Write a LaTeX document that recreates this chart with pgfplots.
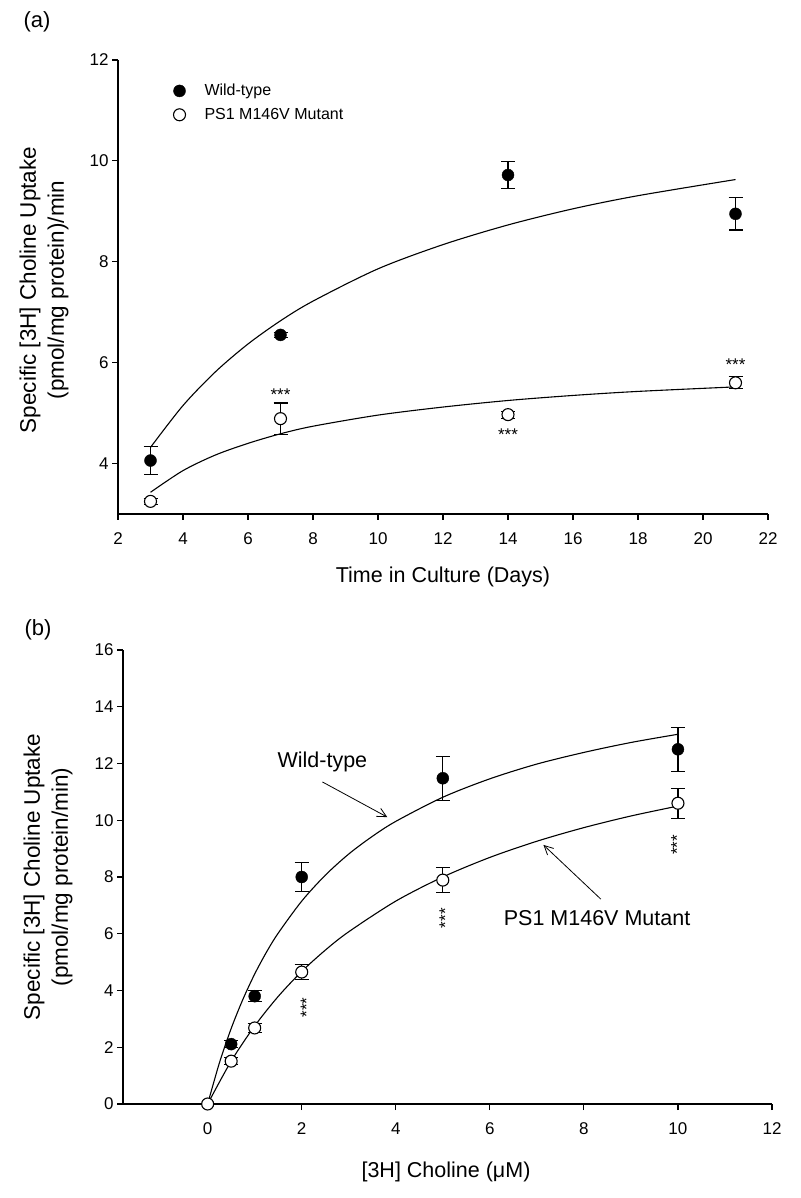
\documentclass[border=0pt]{standalone}
\usepackage{fontspec}
\setmainfont{Liberation Sans}
\usepackage{pgfplots}
\pgfplotsset{compat=1.18}
\usetikzlibrary{arrows.meta}

\tikzset{stars/.style={font=\fontsize{17}{17}\selectfont, inner sep=0pt}}
\pgfplotsset{
  panel/.style={
    scale only axis, width=650pt, height=454pt,
    axis x line*=bottom, axis y line*=left,
    axis line style={line width=1.1pt, -},
    tick align=outside, major tick length=6pt,
    tick style={line width=1.1pt, black},
    ticklabel style={font=\fontsize{17}{17}\selectfont},
    xticklabel style={yshift=-9pt},
    /pgf/number format/assume math mode=true,
    clip=false,
  },
  ebar/.style={error bars/y dir=both, error bars/y explicit,
    error bars/error bar style={line width=1.1pt, black},
    error bars/error mark options={rotate=90, mark size=7pt, line width=1.1pt, black}},
  wt/.style={only marks, mark=*, mark size=6pt, mark options={fill=black, draw=black}, ebar},
  mu/.style={only marks, mark=*, mark size=6pt, mark options={fill=white, draw=black, line width=1.1pt}, ebar},
  fit/.style={smooth, line width=1.1pt, black, mark=none},
}

\begin{document}
\begin{tikzpicture}
\path (0,0) rectangle (800pt,1198pt);

% ---- panel (a)
\begin{axis}[panel, at={(118pt,684pt)}, anchor=south west,
    xmin=2, xmax=22, ymin=3, ymax=12,
    xtick={2,4,...,22}, ytick={4,6,...,12},
    legend style={draw=none, fill=none, at={(axis cs:3.61,11.6)}, anchor=north west,
      font=\fontsize{16}{16}\selectfont, row sep=7pt,
      /tikz/every odd column/.append style={column sep=17pt}},
    legend cell align=left,
    legend image code/.code={\draw[mark repeat=2,mark phase=2] plot coordinates {(0pt,0pt) (6pt,0pt) (12pt,0pt)};},
  ]
  \addlegendimage{only marks, mark=*, mark size=6pt, fill=black}
  \addlegendentry{Wild-type}
  \addlegendimage{only marks, mark=*, mark size=6pt, fill=white, line width=1.1pt}
  \addlegendentry{PS1 M146V Mutant}

  \addplot[fit, forget plot] coordinates {
    (3,4.32) (4,5.15) (5,5.82) (6,6.37) (7,6.83) (8,7.22) (10,7.86)
    (12,8.34) (14,8.73) (16,9.05) (18,9.31) (21,9.63)};
  \addplot[fit, forget plot] coordinates {
    (3,3.43) (4,3.86) (5,4.17) (6,4.40) (7,4.59) (8,4.74) (10,4.96)
    (12,5.12) (14,5.25) (16,5.35) (18,5.43) (21,5.52)};

  \addplot[wt, forget plot] table[x=x, y=y, y error=e] {
x y e
3 4.06 0.27
7 6.55 0.05
14 9.72 0.26
21 8.95 0.32
};
  \addplot[mu, forget plot] table[x=x, y=y, y error=e] {
x y e
3 3.25 0.06
7 4.89 0.31
14 4.97 0.07
21 5.60 0.12
};

  \node[stars] at (axis cs:7,5.37) {***};
  \node[stars] at (axis cs:14,4.57) {***};
  \node[stars] at (axis cs:21,5.96) {***};
\end{axis}

% ---- panel (b)
\begin{axis}[panel, at={(123pt,94pt)}, anchor=south west, width=649pt,
    xmin=-1.8, xmax=12, ymin=0, ymax=16,
    xtick={0,2,...,12}, ytick={0,2,...,16},
  ]
  \addplot[fit] coordinates {
    (0,0) (0.25,1.45) (0.5,2.66) (0.75,3.69) (1,4.58) (1.25,5.35) (1.5,6.02)
    (2,7.15) (2.5,8.06) (3,8.81) (3.5,9.43) (4,9.96) (5,10.81) (6,11.46)
    (7,11.98) (8,12.39) (9,12.74) (10,13.03)};
  \addplot[fit] coordinates {
    (0,0) (0.5,1.51) (1,2.75) (1.5,3.79) (2,4.67) (2.5,5.42) (3,6.07)
    (4,7.15) (5,8.00) (6,8.69) (7,9.26) (8,9.74) (9,10.15) (10,10.50)};

  \addplot[wt] table[x=x, y=y, y error=e] {
x y e
0.5 2.11 0.12
1 3.80 0.20
2 8.00 0.52
5 11.48 0.77
10 12.50 0.78
};
  \addplot[mu] table[x=x, y=y, y error=e] {
x y e
0 0 0
0.5 1.51 0.12
1 2.68 0.15
2 4.65 0.27
5 7.89 0.43
10 10.60 0.53
};

  \node[stars, rotate=90] at (axis cs:2.1,3.4) {***};
  \node[stars, rotate=90] at (axis cs:5.05,6.55) {***};
  \node[stars, rotate=90] at (axis cs:9.98,9.13) {***};

  \node[font=\fontsize{21.5}{21.5}\selectfont] at (axis cs:2.44,12.05) {Wild-type};
  \draw[line width=0.8pt, -{Straight Barb[length=9pt, width=9pt]}] (axis cs:2.44,11.35) -- (axis cs:3.82,10.11);
  \node[font=\fontsize{21.5}{21.5}\selectfont] at (axis cs:8.28,6.55) {PS1 M146V Mutant};
  \draw[line width=0.8pt, -{Straight Barb[length=9pt, width=9pt]}] (axis cs:8.36,7.22) -- (axis cs:7.14,9.13);
\end{axis}

% ---- outer labels
\node[font=\fontsize{22}{22}\selectfont] at (37pt,1176pt) {(a)};
\node[font=\fontsize{22}{22}\selectfont] at (38pt,568pt) {(b)};
\node[rotate=90, align=center, font=\fontsize{22.5}{28}\selectfont] at (44pt,908pt)
  {Specific [3H] Choline Uptake\\(pmol/mg protein)/min};
\node[font=\fontsize{21.5}{21.5}\selectfont] at (443pt,621pt) {Time in Culture (Days)};
\node[rotate=90, align=center, font=\fontsize{22.5}{28}\selectfont] at (48pt,321pt)
  {Specific [3H] Choline Uptake\\(pmol/mg protein/min)};
\node[font=\fontsize{21.5}{21.5}\selectfont] at (446pt,26pt) {[3H] Choline (μM)};
\end{tikzpicture}
\end{document}
